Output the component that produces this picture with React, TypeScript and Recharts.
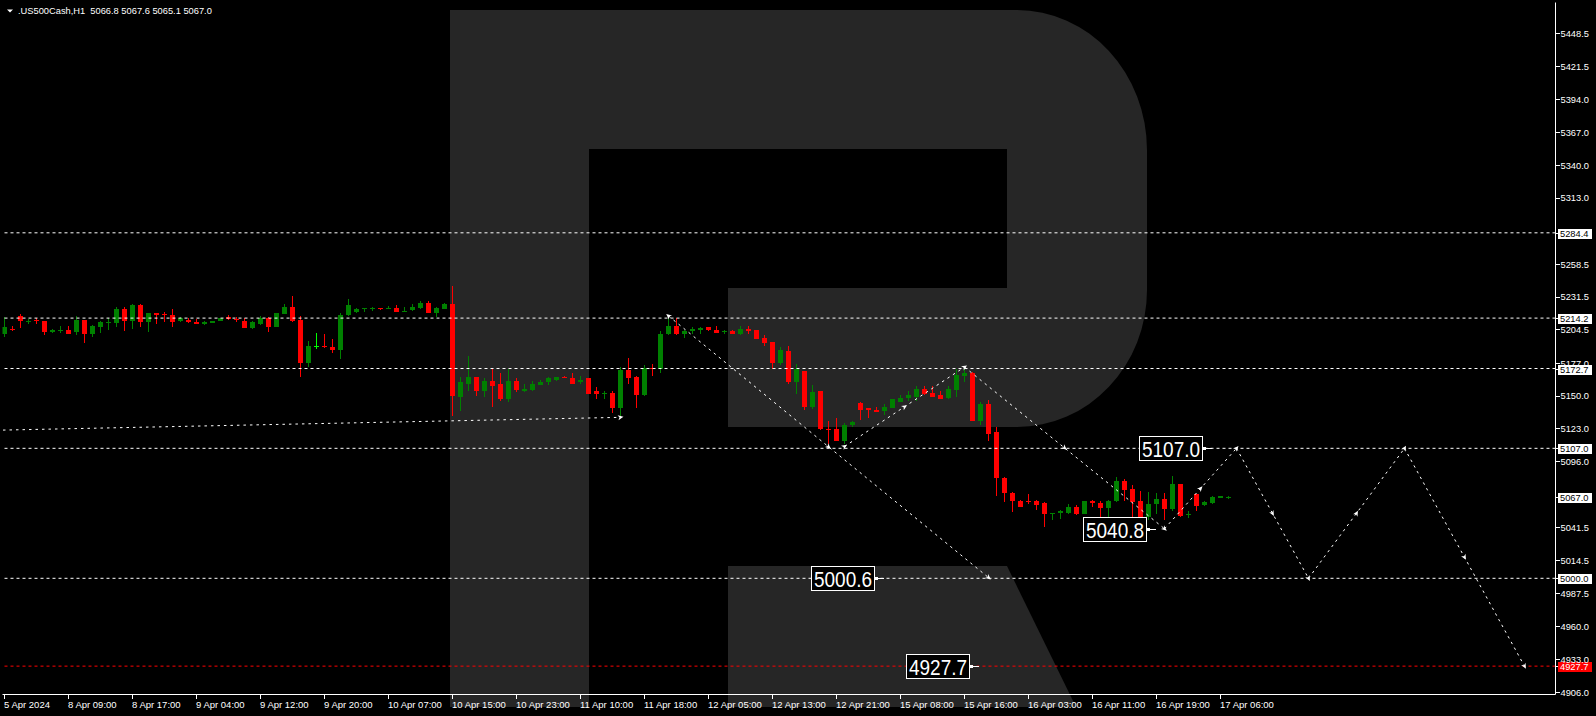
import React from 'react';
import { ComposedChart, Bar, XAxis, YAxis, ReferenceLine, ReferenceDot, ReferenceArea } from 'recharts';

const W = 1596;
const H = 716;
const FONT = '"Liberation Sans", Arial, sans-serif';

const headerSymbol = '.US500Cash,H1';

const openP = [
  5200.7, 5205.6, 5216.3, 5210.8, 5212.5, 5212.2, 5202.6, 5204.2, 5204.8, 5202.6,
  5213.0, 5201.0, 5206.7, 5210.0, 5210.0, 5222.1, 5211.7, 5224.6, 5210.8, 5218.8,
  5217.4, 5217.1, 5211.7, 5213.0, 5211.4, 5209.2, 5210.0, 5211.7, 5215.0, 5213.3,
  5212.2, 5205.9, 5209.2, 5214.4, 5206.7, 5217.4, 5223.7, 5213.0, 5177.1, 5191.0,
  5191.6, 5190.0, 5187.8, 5216.6, 5219.1, 5221.5, 5222.4, 5222.9, 5221.5, 5222.9,
  5219.9, 5220.7, 5222.4, 5227.0, 5218.2, 5222.1, 5226.2, 5149.6, 5160.3, 5166.1,
  5154.0, 5162.8, 5160.3, 5147.2, 5162.8, 5153.8, 5155.4, 5159.5, 5161.2, 5163.6,
  5166.1, 5165.3, 5161.2, 5164.5, 5154.0, 5152.4, 5152.9, 5139.8, 5171.1, 5166.1,
  5151.3, 5173.5, 5172.7, 5201.0, 5208.1, 5201.5, 5203.4, 5204.5, 5206.5, 5204.0,
  5202.9, 5203.2, 5201.5, 5205.6, 5204.0, 5198.2, 5194.9, 5177.6, 5187.5, 5161.2,
  5171.0, 5140.9, 5153.8, 5123.3, 5122.5, 5113.4, 5125.8, 5144.2, 5140.6, 5138.9,
  5138.1, 5140.6, 5145.5, 5148.8, 5149.6, 5156.2, 5152.9, 5150.5, 5148.8, 5155.4,
  5166.9, 5169.4, 5129.9, 5143.1, 5120.3, 5082.4, 5070.1, 5064.0, 5064.0, 5064.0,
  5061.6, 5053.3, 5053.6, 5054.1, 5059.1, 5053.0, 5063.5, 5062.4, 5057.7, 5063.5,
  5079.7, 5073.6, 5064.0, 5050.3, 5061.0, 5064.9, 5057.4, 5077.7, 5052.8, 5069.0,
  5060.2, 5062.1, 5066.2, 5066.8,
];
const highP = [
  5215.0, 5207.3, 5217.4, 5213.6, 5214.1, 5212.2, 5205.4, 5207.3, 5208.1, 5216.3,
  5213.0, 5208.9, 5212.2, 5214.1, 5223.7, 5223.7, 5226.2, 5225.4, 5218.8, 5218.8,
  5219.6, 5221.3, 5215.2, 5214.1, 5213.3, 5211.7, 5212.2, 5214.4, 5216.6, 5215.5,
  5213.9, 5211.7, 5216.3, 5215.5, 5218.8, 5225.4, 5232.2, 5216.3, 5195.2, 5201.8,
  5200.7, 5196.6, 5218.8, 5229.8, 5222.9, 5222.9, 5223.2, 5222.9, 5224.0, 5224.6,
  5223.7, 5225.4, 5228.1, 5227.9, 5223.7, 5226.5, 5241.0, 5166.1, 5183.4, 5166.1,
  5164.5, 5172.7, 5169.4, 5172.2, 5164.5, 5160.1, 5162.8, 5163.6, 5166.1, 5166.1,
  5166.9, 5168.6, 5166.9, 5164.5, 5157.1, 5154.6, 5154.6, 5174.3, 5181.0, 5166.9,
  5175.2, 5176.8, 5203.2, 5214.7, 5213.9, 5204.8, 5206.5, 5206.7, 5206.5, 5207.3,
  5204.8, 5204.8, 5207.3, 5207.3, 5204.0, 5199.9, 5194.9, 5190.8, 5191.6, 5176.8,
  5171.0, 5159.5, 5153.8, 5129.9, 5132.1, 5127.7, 5129.3, 5145.5, 5140.6, 5141.4,
  5143.6, 5147.2, 5150.5, 5153.8, 5157.9, 5157.9, 5157.9, 5153.8, 5157.9, 5171.9,
  5172.7, 5170.2, 5145.5, 5146.4, 5124.9, 5083.8, 5071.4, 5064.6, 5069.0, 5064.6,
  5062.7, 5054.1, 5056.3, 5061.3, 5060.5, 5064.0, 5064.6, 5064.0, 5064.6, 5083.2,
  5081.9, 5076.4, 5072.2, 5071.4, 5070.3, 5070.1, 5084.6, 5077.7, 5055.2, 5069.5,
  5064.0, 5067.6, 5068.1, 5067.6,
];
const lowP = [
  5198.5, 5203.4, 5205.9, 5209.2, 5209.5, 5200.1, 5202.3, 5201.8, 5200.7, 5200.4,
  5193.6, 5198.5, 5201.8, 5204.8, 5206.7, 5203.4, 5205.1, 5206.7, 5202.6, 5209.7,
  5210.8, 5206.7, 5210.8, 5210.0, 5209.2, 5208.4, 5210.0, 5211.7, 5213.0, 5211.4,
  5205.9, 5205.1, 5208.6, 5202.6, 5206.7, 5217.4, 5210.8, 5165.6, 5173.8, 5188.9,
  5189.4, 5185.3, 5180.4, 5215.8, 5218.8, 5219.4, 5219.9, 5220.7, 5221.5, 5219.6,
  5219.9, 5219.9, 5221.5, 5218.2, 5215.0, 5221.3, 5134.0, 5137.6, 5154.6, 5150.4,
  5149.6, 5141.4, 5146.3, 5145.5, 5153.2, 5153.2, 5154.6, 5159.5, 5159.5, 5162.8,
  5164.5, 5160.3, 5160.3, 5152.1, 5148.0, 5147.2, 5135.7, 5133.2, 5160.3, 5139.8,
  5150.4, 5166.9, 5168.6, 5199.9, 5199.9, 5198.2, 5201.5, 5201.5, 5203.2, 5202.3,
  5201.5, 5201.5, 5199.9, 5200.7, 5197.4, 5191.6, 5172.7, 5175.2, 5160.3, 5152.1,
  5138.7, 5139.5, 5122.2, 5110.7, 5113.4, 5110.7, 5124.9, 5130.7, 5131.8, 5137.3,
  5134.8, 5140.6, 5145.5, 5146.3, 5146.3, 5150.5, 5149.6, 5147.2, 5147.2, 5149.6,
  5161.2, 5129.9, 5126.6, 5113.4, 5068.1, 5062.7, 5054.4, 5058.5, 5061.3, 5056.3,
  5042.1, 5047.6, 5048.9, 5053.3, 5052.2, 5053.0, 5058.5, 5050.3, 5050.3, 5062.7,
  5064.0, 5044.0, 5044.0, 5047.6, 5053.0, 5047.6, 5055.8, 5050.3, 5049.5, 5055.0,
  5059.4, 5061.3, 5065.7, 5065.1,
];
const closeP = [
  5206.7, 5205.1, 5211.7, 5212.2, 5211.7, 5202.6, 5204.8, 5204.8, 5201.2, 5213.0,
  5201.0, 5207.3, 5210.8, 5210.6, 5222.1, 5211.7, 5224.6, 5210.8, 5218.8, 5216.6,
  5216.9, 5210.8, 5214.4, 5210.8, 5209.2, 5210.8, 5212.2, 5214.4, 5213.6, 5212.8,
  5205.9, 5210.8, 5213.9, 5206.7, 5218.2, 5223.7, 5211.7, 5177.1, 5191.6, 5191.0,
  5190.0, 5187.8, 5217.1, 5224.6, 5222.1, 5222.9, 5222.9, 5221.5, 5222.9, 5219.6,
  5220.4, 5223.7, 5227.0, 5218.2, 5222.9, 5226.2, 5149.9, 5161.2, 5166.1, 5154.0,
  5162.8, 5158.7, 5147.2, 5162.8, 5155.4, 5156.2, 5160.3, 5161.2, 5164.5, 5166.1,
  5164.5, 5160.3, 5163.6, 5152.1, 5152.1, 5152.9, 5139.8, 5171.1, 5165.3, 5151.3,
  5173.5, 5172.7, 5201.5, 5208.1, 5201.5, 5203.2, 5205.1, 5205.9, 5204.0, 5202.3,
  5203.4, 5201.5, 5205.6, 5203.2, 5197.4, 5194.1, 5177.6, 5188.3, 5161.2, 5171.9,
  5140.9, 5153.2, 5123.0, 5121.9, 5113.4, 5126.6, 5128.5, 5138.9, 5138.4, 5137.3,
  5141.4, 5147.2, 5148.8, 5151.3, 5156.2, 5152.1, 5149.6, 5148.0, 5156.2, 5167.7,
  5169.4, 5129.9, 5143.1, 5119.2, 5082.4, 5070.1, 5063.5, 5059.1, 5062.9, 5060.7,
  5052.8, 5054.1, 5055.2, 5059.1, 5052.8, 5063.5, 5061.8, 5057.7, 5063.5, 5079.7,
  5073.1, 5063.2, 5050.3, 5061.3, 5064.9, 5057.4, 5077.7, 5051.7, 5053.3, 5059.4,
  5063.2, 5066.8, 5067.6, 5067.0,
];

const xTickIdx = [0, 8, 16, 24, 32, 40, 48, 56, 64, 72, 80, 88, 96, 104, 112, 120, 128, 136, 144, 152];
const xTickLabels = [
  '5 Apr 2024', '8 Apr 09:00', '8 Apr 17:00', '9 Apr 04:00', '9 Apr 12:00', '9 Apr 20:00',
  '10 Apr 07:00', '10 Apr 15:00', '10 Apr 23:00', '11 Apr 10:00', '11 Apr 18:00', '12 Apr 05:00',
  '12 Apr 13:00', '12 Apr 21:00', '15 Apr 08:00', '15 Apr 16:00', '16 Apr 03:00', '16 Apr 11:00',
  '16 Apr 19:00', '17 Apr 06:00',
];
const yTicks = [
  5448.5, 5421.5, 5394.0, 5367.0, 5340.0, 5313.0, 5258.5, 5231.5, 5204.5, 5177.0,
  5150.0, 5123.0, 5096.0, 5041.5, 5014.5, 4987.5, 4960.0, 4933.0, 4906.0,
];

const levelPrices = [5284.4, 5214.2, 5172.7, 5107.0, 5000.0];
const targetPrice = 4927.7;
const bidPrice = 5067.0;

// zig-zag forecast segments (bar index / price)
const segFromIdx = [-1, 83, 105, 120, 145, 154, 163, 175];
const segFromP = [5121.9, 5216.0, 5108.5, 5173.9, 5040.8, 5107.0, 5000.0, 5107.0];
const segToIdx = [77, 123, 120, 145, 154, 163, 175, 190];
const segToP = [5132.5, 5000.6, 5173.9, 5040.8, 5107.0, 5000.0, 5107.0, 4927.7];

const markIdx = [77, 83, 103, 123, 105, 112.5, 120, 132.5, 145, 149.5, 154, 158.5, 163, 169, 175, 182.5, 190];
const markP = [5132.5, 5216.0, 5108.3, 5000.6, 5108.5, 5141.2, 5173.9, 5107.4, 5040.8, 5073.9, 5107.0, 5053.5, 5000.0, 5053.5, 5107.0, 5017.4, 4927.7];
const markRot = [-10, -140, 39, 39, -33, -33, -33, 39, 39, -48, -48, 61, 61, -61, -61, 62, 62];

const tagIdx = [150.9, 143.9, 109.9, 121.75];
const tagP = [5107.0, 5040.8, 5000.6, 4927.7];

const X_MIN = -0.25;
const X_MAX = 193.875;
const Y_MIN = 4904.35;
const Y_MAX = 5474.0;

const data = openP.map((o, i) => ({ i, o, h: highP[i], l: lowP[i], c: closeP[i] }));

const Candle = (props: any) => {
  const { x, width, y, height, payload } = props;
  if (!payload || x == null) return null;
  const { o, h, l, c } = payload;
  const top = Math.min(y, y + height);
  const hgt = Math.abs(height);
  const span = h - l || 1;
  const toY = (v: number) => top + ((h - v) / span) * hgt;
  const cx = Math.round(x + width / 2 - 0.5) + 0.5;
  const bTop = Math.round(toY(Math.max(o, c)));
  let bBot = Math.round(toY(Math.min(o, c)));
  if (bBot - bTop < 1) bBot = bTop + 1;
  const wT = Math.round(toY(h));
  let wB = Math.round(toY(l));
  if (wB <= wT) wB = wT + 1;
  const color = o === c ? '#00ff00' : c > o ? '#008000' : '#ff0000';
  return (
    <g>
      <line x1={cx} x2={cx} y1={wT} y2={wB} stroke={color} strokeWidth={1} shapeRendering="crispEdges" />
      <rect x={cx - 2.5} y={bTop} width={5} height={bBot - bTop} fill={color} shapeRendering="crispEdges" />
    </g>
  );
};

const XTick = (props: any) => {
  const { x, y, payload } = props;
  const k = xTickIdx.indexOf(Number(payload.value));
  const label = k >= 0 ? xTickLabels[k] : '';
  const px = Math.round(x - 0.5) + 0.5;
  return (
    <g>
      <line x1={px} x2={px} y1={y} y2={y + 4} stroke="#fff" shapeRendering="crispEdges" />
      <text x={px - 0.5} y={y + 13.5} fill="#fff" fontSize={9.5} fontFamily={FONT}>{label}</text>
    </g>
  );
};

const YTick = (props: any) => {
  const { x, y, payload } = props;
  const py = Math.round(y - 0.5) + 0.5;
  return (
    <g>
      <line x1={x} x2={x + 4} y1={py} y2={py} stroke="#fff" shapeRendering="crispEdges" />
      <text x={x + 5} y={y + 3.3} fill="#fff" fontSize={9.3} fontFamily={FONT}>{Number(payload.value).toFixed(1)}</text>
    </g>
  );
};

const AxisTag = (props: any) => {
  const { cx, cy, text, bg, fg } = props;
  if (cx == null) return null;
  const Y = Math.round(cy);
  return (
    <g>
      <line x1={cx} x2={cx + 3} y1={Y + 0.5} y2={Y + 0.5} stroke="#fff" shapeRendering="crispEdges" />
      <rect x={cx + 2.5} y={Y - 4.5} width={34} height={10} fill={bg} shapeRendering="crispEdges" />
      <text x={cx + 4.5} y={Y + 4} fill={fg} fontSize={9.3} fontFamily={FONT}>{text}</text>
    </g>
  );
};

const PriceTag = (props: any) => {
  const { cx, cy, text } = props;
  if (cx == null) return null;
  const X = Math.round(cx);
  const Y = Math.round(cy);
  return (
    <g>
      <rect x={X - 72.5} y={Y - 11.5} width={63} height={24} fill="#000" stroke="#fff" strokeWidth={1} shapeRendering="crispEdges" />
      <rect x={X - 9} y={Y - 1} width={3} height={3} fill="#fff" shapeRendering="crispEdges" />
      <line x1={X - 6} x2={X} y1={Y + 0.5} y2={Y + 0.5} stroke="#fff" shapeRendering="crispEdges" />
      <text x={X - 41} y={Y + 8.5} textAnchor="middle" fill="#fff" fontSize={22} fontFamily={FONT}
        textLength={58} lengthAdjust="spacingAndGlyphs">{text}</text>
    </g>
  );
};

const Arrow = (props: any) => {
  const { cx, cy, rot } = props;
  if (cx == null) return null;
  return (
    <polygon
      points="3,0 -2.5,-2.5 -1,0 -2.5,2.5"
      fill="#fff"
      transform={`translate(${cx},${cy}) rotate(${rot})`}
    />
  );
};

const Watermark = () => (
  <g pointerEvents="none">
    <path
      d="M450,10 H1017 A130,140 0 0 1 1147,150 V290 A130,137 0 0 1 1017,427 H728 V288 H1007 V149 H589 V707 H450 Z"
      fill="#ffffff" fillOpacity={0.149}
    />
    <path d="M728,566 H1007 L1076,707 H728 Z" fill="#ffffff" fillOpacity={0.149} />
  </g>
);

export default function App() {
  const last = openP.length - 1;
  const header = `${headerSymbol}  ${openP[last].toFixed(1)} ${highP[last].toFixed(1)} ${lowP[last].toFixed(1)} ${closeP[last].toFixed(1)}`;
  return (
    <div style={{ position: 'absolute', left: 0, top: 0, width: W, height: H, background: '#000', overflow: 'hidden' }}>
      <ComposedChart
        width={W}
        height={H}
        data={data}
        margin={{ top: 2.5, right: 0, bottom: 0, left: 2.5 }}
        style={{ background: '#000' }}
      >
        <XAxis
          xAxisId={0}
          dataKey="i"
          type="number"
          domain={[X_MIN, X_MAX]}
          allowDataOverflow
          ticks={xTickIdx}
          interval={0}
          height={21.5}
          tickSize={0}
          tickMargin={0}
          tickLine={false}
          axisLine={{ stroke: '#fff', strokeWidth: 1 }}
          tick={<XTick />}
        />
        <XAxis xAxisId="top" orientation="top" type="number" domain={[0, 1]} height={0}
          tick={false} tickLine={false} axisLine={{ stroke: '#fff', strokeWidth: 1 }} />
        <YAxis
          yAxisId={0}
          orientation="right"
          type="number"
          domain={[Y_MIN, Y_MAX]}
          allowDataOverflow
          ticks={yTicks}
          interval={0}
          width={40.5}
          tickSize={0}
          tickMargin={0}
          tickLine={false}
          axisLine={{ stroke: '#fff', strokeWidth: 1 }}
          tick={<YTick />}
        />
        <YAxis yAxisId="left" orientation="left" type="number" domain={[0, 1]} width={0}
          tick={false} tickLine={false} axisLine={{ stroke: '#fff', strokeWidth: 1 }} />

        <Bar
          dataKey={(d: any) => [d.l, d.h]}
          barSize={5}
          isAnimationActive={false}
          shape={(p: any) => <Candle {...p} />}
        />

        <ReferenceArea x1={0} x2={1} y1={5000} y2={5001} ifOverflow="visible" shape={() => <Watermark />} />

        {levelPrices.map((v) => (
          <ReferenceLine key={`lv${v}`} y={v} stroke="#ffffff" strokeWidth={1} strokeDasharray="3 3" />
        ))}
        <ReferenceLine y={targetPrice} stroke="#ff0000" strokeWidth={1} strokeDasharray="3 3" />

        {segFromIdx.map((fx, k) => (
          <ReferenceLine
            key={`seg${k}`}
            segment={[{ x: fx, y: segFromP[k] }, { x: segToIdx[k], y: segToP[k] }]}
            stroke="#ffffff"
            strokeWidth={1}
            strokeDasharray="2.5 4"
            ifOverflow="hidden"
          />
        ))}

        {markIdx.map((mx, k) => (
          <ReferenceDot key={`mk${k}`} x={mx} y={markP[k]} r={3} ifOverflow="visible"
            shape={(p: any) => <Arrow cx={p.cx} cy={p.cy} rot={markRot[k]} />} />
        ))}

        {tagIdx.map((tx, k) => (
          <ReferenceDot key={`tg${k}`} x={tx} y={tagP[k]} r={3} ifOverflow="visible"
            shape={(p: any) => <PriceTag cx={p.cx} cy={p.cy} text={tagP[k].toFixed(1)} />} />
        ))}

        {levelPrices.map((v) => (
          <ReferenceDot key={`ax${v}`} x={X_MAX} y={v} r={3} ifOverflow="visible"
            shape={(p: any) => <AxisTag cx={p.cx} cy={p.cy} text={v.toFixed(1)} bg="#ffffff" fg="#000000" />} />
        ))}
        <ReferenceDot x={X_MAX} y={bidPrice} r={3} ifOverflow="visible"
          shape={(p: any) => <AxisTag cx={p.cx} cy={p.cy} text={bidPrice.toFixed(1)} bg="#ffffff" fg="#000000" />} />
        <ReferenceDot x={X_MAX} y={targetPrice} r={3} ifOverflow="visible"
          shape={(p: any) => <AxisTag cx={p.cx} cy={p.cy} text={targetPrice.toFixed(1)} bg="#ff0000" fg="#ffffff" />} />
      </ComposedChart>
      <svg width={320} height={20} style={{ position: 'absolute', left: 0, top: 0, pointerEvents: 'none' }}>
        <polygon points="7,9.5 13,9.5 10,12.5" fill="#fff" />
        <text x={18} y={13.5} fill="#fff" fontSize={9.3} fontFamily={FONT} style={{ whiteSpace: 'pre' }}>{header}</text>
      </svg>
    </div>
  );
}
